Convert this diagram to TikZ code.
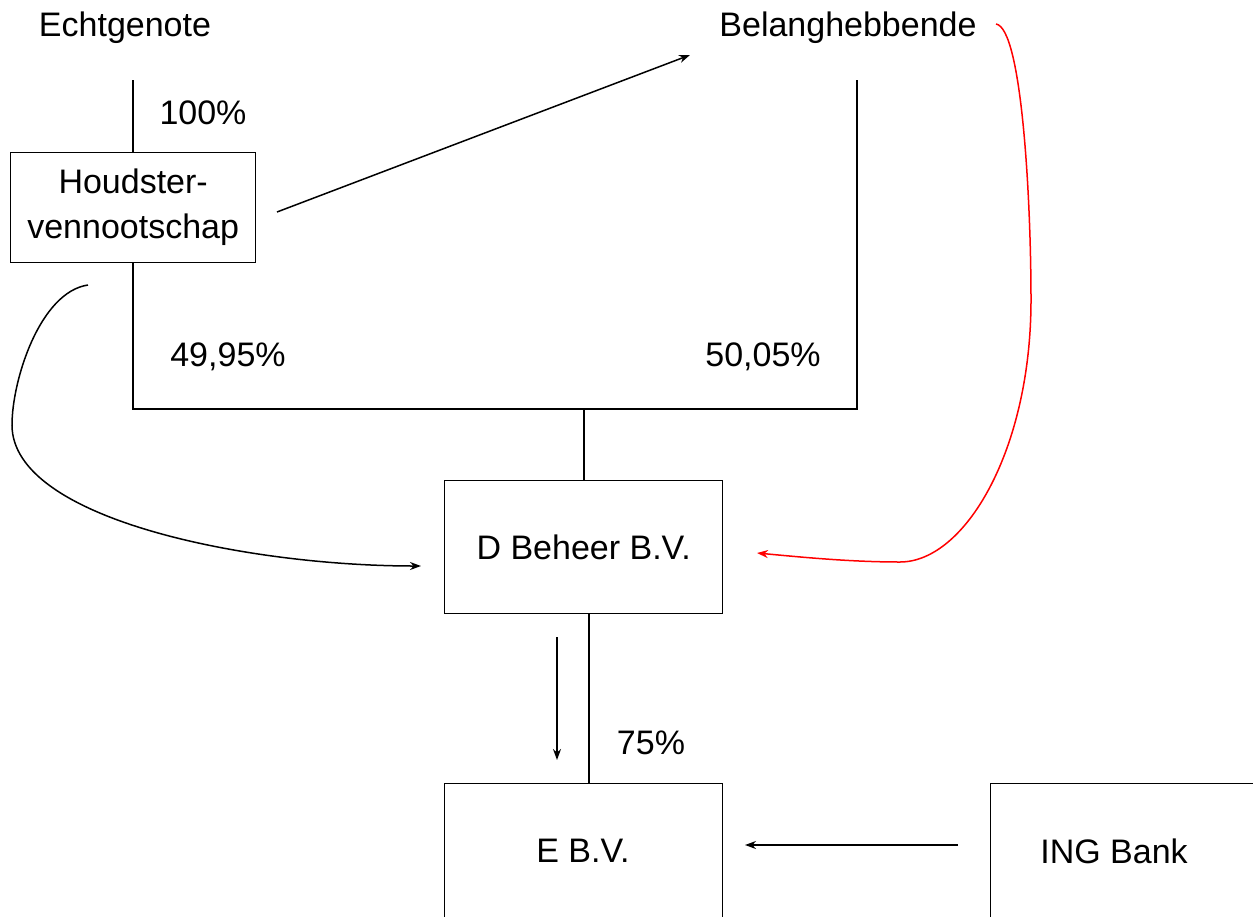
\documentclass[tikz,border=0pt]{standalone}
\usepackage{fontspec}
\setmainfont{Liberation Sans}
\usetikzlibrary{arrows.meta}
\begin{document}
\begin{tikzpicture}[x=1pt,y=-1pt,
  every node/.style={font=\fontsize{34}{45}\selectfont, inner sep=0pt},
  box/.style={draw, line width=1.3pt, anchor=north west},
  wire/.style={line width=1.3pt},
  arr/.style={line width=1.5pt, -{Stealth[length=11pt,width=8pt]}},
  lbl/.style={}]
\useasboundingbox (0,0) rectangle (1253,916);
% texts
\node (ech) at (125,28) {Echtgenote};
\node (bel) at (848,28) {Belanghebbende};
\node[lbl] (p100) at (203,113) {100\%};
\node[lbl] (p4995) at (228,357) {49,95\%};
\node[lbl] (p5005) at (763,357) {50,05\%};
\node[lbl] (p75) at (651,743) {75\%};
% boxes
\node[box, minimum width=245pt, minimum height=110pt] (hv) at (10,152) {};
\node[align=center] at (hv.center) {Houdster-\\vennootschap};
\node[box, minimum width=278pt, minimum height=133pt] (d) at (444,480) {};
\node at (d.center) {D Beheer B.V.};
\node[box, minimum width=278pt, minimum height=160pt] (e) at (444,783) {};
\node at (583,851) {E B.V.};
\node[box, minimum width=265pt, minimum height=160pt] (ing) at (990,783) {};
\node at (1114,851) {ING Bank};
% coordinates
\coordinate (etop) at (133,80);
\coordinate (btop) at (857,80);
\coordinate (jn) at (584,409);
% ownership lines
\draw[wire] (etop) -- (hv.north -| etop);
\draw[wire] (hv.south -| etop) |- (jn) -| (btop);
\draw[wire] (jn) -- (d.north -| jn);
\draw[wire] (589,613) -- (589,783);
% arrows
\coordinate (a1s) at (277,212);
\coordinate (a1e) at (690,55);
\draw[arr] (a1s) -- (a1e);
\coordinate (a2s) at (557,637);
\coordinate (a2e) at (557,760);
\draw[arr] (a2s) -- (a2e);
\coordinate (a3s) at (958,845);
\coordinate (a3e) at (745,845);
\draw[arr] (a3s) -- (a3e);
% curves
\coordinate (c1s) at (88,285);
\coordinate (c1m) at (12,425);
\coordinate (c1e) at (421,566);
\draw[arr] (c1s) .. controls (40,292) and (12,380) .. (c1m)
  .. controls (12,520) and (250,566) .. (c1e);
\coordinate (c2s) at (996,24);
\coordinate (c2m) at (1031,300);
\coordinate (c2e) at (757,553);
\draw[arr, red, -{Stealth[length=11pt,width=8pt]}] (c2s) .. controls (1022,28) and (1031,200) .. (c2m)
  .. controls (1031,450) and (965,562) .. (900,562)
  .. controls (850,562) and (800,557) .. (c2e);
\end{tikzpicture}
\end{document}
